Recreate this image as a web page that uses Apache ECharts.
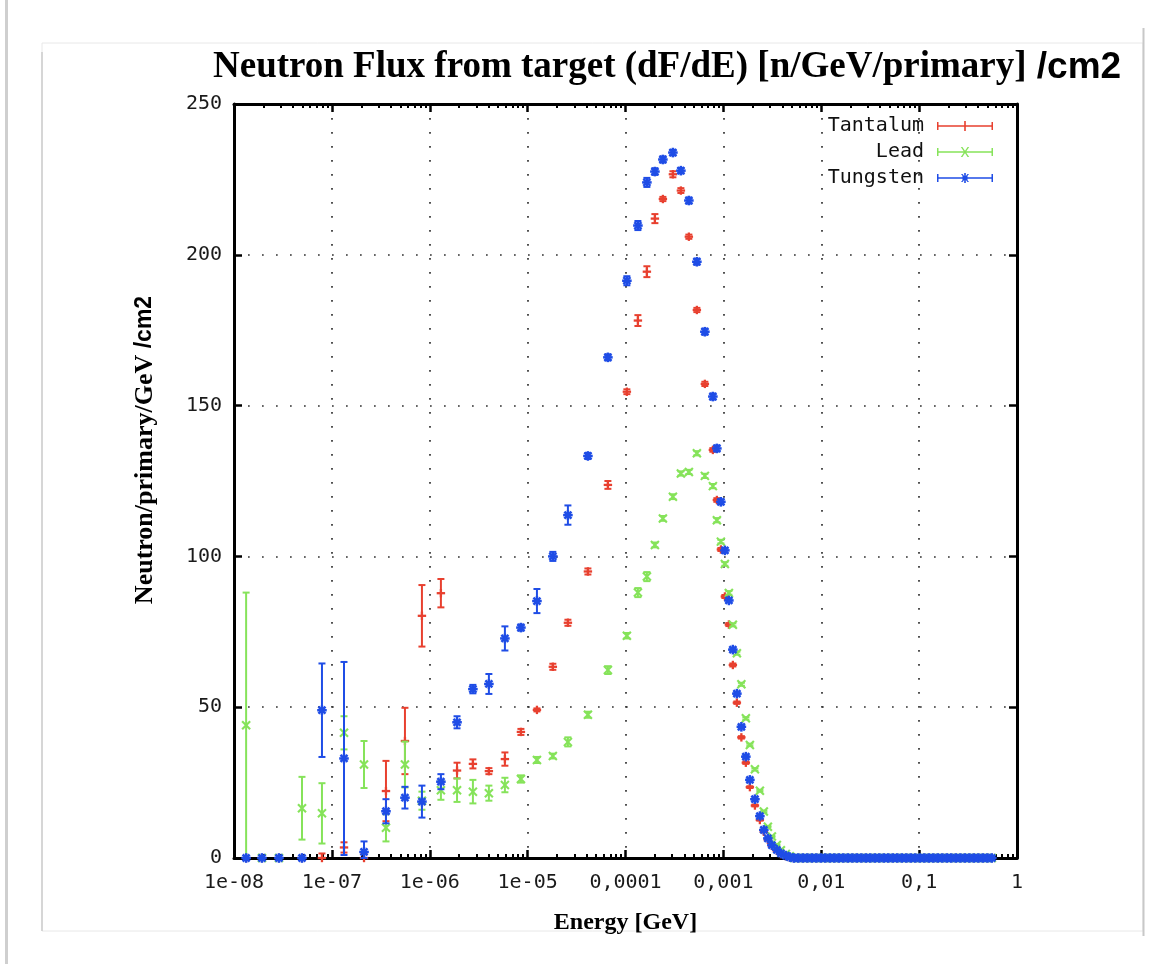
<!DOCTYPE html>
<html><head><meta charset="utf-8">
<script src="https://cdn.jsdelivr.net/npm/echarts@6.0.0/dist/echarts.min.js"></script>
<style>html,body{margin:0;padding:0;background:#fff}#c{width:1168px;height:964px}</style>
</head><body><div id="c"></div>
<script>
// ---- data ----
const energyBins = [1.33e-8, 1.93e-8, 2.88e-8, 4.95e-8, 7.92e-8, 1.33e-7, 2.13e-7, 3.57e-7, 5.58e-7, 8.32e-7,
  1.30e-6, 1.90e-6, 2.76e-6, 4.02e-6, 5.86e-6, 8.54e-6, 1.245e-5, 1.81e-5, 2.58e-5, 4.13e-5,
  6.61e-5, 1.033e-4, 1.339e-4, 1.654e-4, 1.997e-4, 2.41e-4, 3.05e-4, 3.68e-4, 4.44e-4, 5.36e-4,
  6.47e-4, 7.81e-4, 8.58e-4, 9.43e-4, 1.036e-3, 1.138e-3, 1.25e-3, 1.374e-3, 1.527e-3, 1.697e-3,
  1.865e-3, 2.10e-3, 2.36e-3, 2.59e-3, 2.85e-3, 3.13e-3, 3.52e-3, 3.87e-3, 4.35e-3, 4.78e-3];

const tantalumFlux = [0, 0, 0, 0, 0, 3.5, 0, 22.2, 38.8, 80.3,
  87.8, 29, 31.2, 28.8, 32.8, 41.8, 49.1, 63.4, 78, 95,
  123.7, 154.6, 178.2, 194.4, 212, 218.5, 226.7, 221.3, 206, 181.7,
  157.2, 135.3, 118.7, 102.3, 86.7, 77.4, 64, 51.5, 40, 31.6,
  23.5, 17.4, 12.6, 8.7, 6, 4, 2.4, 1.3, 0.6, 0.2];
const tantalumErr = [0, 0, 0, 0, 1.5, 1.7, 1.5, 10, 11, 10.2,
  4.7, 2.6, 1.5, 1, 2.2, 1, 0.5, 1, 1, 1,
  1.3, 0.8, 1.8, 1.8, 1.5, 0.7, 1, 0.8, 0.7, 0.7,
  0.7, 0.6, 0.6, 0.5, 0.5, 0.5, 0.5, 0.4, 0.4, 0.4,
  0.3, 0.3, 0.2, 0.2, 0.2, 0.1, 0.1, 0.1, 0.1, 0.1];

const leadFlux = [44, 0, 0, 16.5, 14.8, 41.5, 31, 10, 31, 19,
  22.5, 22.5, 22, 21.5, 24.2, 26.2, 32.5, 33.8, 38.5, 47.5,
  62.3, 73.7, 88, 93.3, 103.8, 112.6, 119.8, 127.5, 128, 134.2,
  126.7, 123.3, 112, 104.9, 97.5, 87.9, 77.3, 67.9, 57.6, 46.3,
  37.5, 29.4, 22.3, 15.4, 10.4, 7.1, 4.3, 2.6, 1.3, 0.6];
const leadErr = [44, 0, 0, 10.4, 10, 5.5, 7.8, 4.5, 7.6, 3,
  3.2, 3.9, 3.9, 2.5, 2.4, 1.2, 1, 0.8, 1.5, 1,
  1.3, 0.9, 1.5, 1.5, 0.8, 0.8, 0.8, 0.7, 0.7, 0.7,
  0.7, 0.7, 0.7, 0.6, 0.6, 0.6, 0.5, 0.5, 0.5, 0.4,
  0.4, 0.4, 0.3, 0.3, 0.2, 0.2, 0.2, 0.1, 0.1, 0.1];

const tungstenFlux = [0, 0, 0, 0, 49, 33, 2, 15.5, 20, 18.7,
  25.3, 45, 56, 57.7, 72.8, 76.4, 85.2, 100, 113.7, 133.3,
  166, 191.4, 209.7, 224, 227.6, 231.6, 233.9, 227.9, 218, 197.7,
  174.5, 153, 135.8, 118.1, 102, 85.4, 69.1, 54.5, 43.5, 33.6,
  25.9, 19.5, 13.9, 9.3, 6.5, 4.3, 2.7, 1.5, 0.8, 0.3];
const tungstenErr = [0, 0, 0, 0, 15.5, 32, 3.5, 4, 3.6, 5.3,
  2.5, 2, 1.4, 3.3, 4, 1, 4, 1.5, 3.2, 1,
  1, 1.5, 1.5, 1.5, 1.1, 1, 0.9, 0.9, 1, 1,
  1, 1, 1, 0.8, 0.7, 0.6, 0.6, 0.5, 0.5, 0.4,
  0.4, 0.3, 0.3, 0.2, 0.2, 0.2, 0.1, 0.1, 0.1, 0.1];

const tailEnergy = [5.25e-3, 5.83e-3, 6.49e-3, 7.21e-3, 8.02e-3, 8.91e-3, 9.91e-3, 1.10e-2, 1.225e-2, 1.36e-2,
  1.51e-2, 1.68e-2, 1.87e-2, 2.08e-2, 2.31e-2, 2.57e-2, 2.86e-2, 3.17e-2, 3.53e-2, 3.92e-2,
  4.36e-2, 4.84e-2, 5.38e-2, 5.98e-2, 6.65e-2, 7.40e-2, 8.22e-2, 9.14e-2, 0.1016, 0.113,
  0.1256, 0.1396, 0.155, 0.1726, 0.192, 0.213, 0.237, 0.264, 0.293, 0.326,
  0.362, 0.403, 0.448, 0.498, 0.553];
const tailFlux = [0, 0, 0, 0, 0, 0, 0, 0, 0, 0,
  0, 0, 0, 0, 0, 0, 0, 0, 0, 0,
  0, 0, 0, 0, 0, 0, 0, 0, 0, 0,
  0, 0, 0, 0, 0, 0, 0, 0, 0, 0,
  0, 0, 0, 0, 0];

const seriesNames = ['Tantalum', 'Lead', 'Tungsten'];
const xTickLabels = ['1e-08', '1e-07', '1e-06', '1e-05', '0,0001', '0,001', '0,01', '0,1', '1'];
const yTickLabels = ['0', '50', '100', '150', '200', '250'];
const minorMultipliers = [2, 3, 4, 5, 6, 7, 8, 9];

// ---- build ----
const colors = ['#e8402f', '#86e35a', '#1f4de6'];
function build(flux, err) {
  return energyBins.map((e, i) => [e, flux[i], err[i]])
    .concat(tailEnergy.map((e, i) => [e, tailFlux[i], 0]));
}
const minorTicks = [];
for (let k = -8; k < 0; k++) minorMultipliers.forEach(m => minorTicks.push(m * Math.pow(10, k)));

function makeRender(shape, color) {
  return function (params, api) {
    const e = api.value(0), v = api.value(1), er = api.value(2);
    const p = api.coord([e, v]);
    const t = api.coord([e, v + er]);
    const b = api.coord([e, Math.max(0, v - er)]);
    const cap = 3.5;
    const L = (x1, y1, x2, y2, w) => ({type: 'line', shape: {x1, y1, x2, y2}, style: {stroke: color, lineWidth: w || 2}});
    const ch = [
      L(p[0], t[1], p[0], b[1]),
      L(p[0] - cap, t[1], p[0] + cap, t[1]),
      L(p[0] - cap, b[1], p[0] + cap, b[1])
    ];
    const x = p[0], y = p[1];
    if (shape === 'plus') {
      const m = 4.2;
      ch.push(L(x - m, y, x + m, y, 2.3), L(x, y - m, x, y + m, 2.3));
    } else if (shape === 'cross') {
      const m = 4;
      ch.push(L(x - m, y - m, x + m, y + m, 2.1), L(x - m, y + m, x + m, y - m, 2.1));
    } else {
      const m = 4.8, d = 3.5;
      ch.push(L(x - m, y, x + m, y, 2.5), L(x, y - m, x, y + m, 2.5),
        L(x - d, y - d, x + d, y + d, 2.5), L(x - d, y + d, x + d, y - d, 2.5));
    }
    return {type: 'group', children: ch};
  };
}

const bar = 'M0 4.3 H56 V5.7 H0 Z M0 1 H1.5 V9 H0 Z M54.5 1 H56 V9 H54.5 Z ';
const icons = [
  'path://' + bar + 'M27.2 0 H28.8 V10 H27.2 Z',
  'path://' + bar + 'M23.8 0 L25.4 0 L32.2 10 L30.6 10 Z M30.6 0 L32.2 0 L25.4 10 L23.8 10 Z',
  'path://' + bar + 'M27.2 0 H28.8 V10 H27.2 Z M24 1 L25.5 1 L32 9 L30.5 9 Z M30.5 1 L32 1 L25.5 9 L24 9 Z M25.5 3 H30.5 V7 H25.5 Z'
];

const monoFont = 'DejaVu Sans Mono';
const chart = echarts.init(document.getElementById('c'), null, {renderer: 'canvas'});
const dotted = {color: '#333', width: 1.7, type: [1.7, 12.3]};
const logAxisBase = {type: 'log', logBase: 10, min: 1e-8, max: 1, gridIndex: 0};

chart.setOption({
  animation: false,
  backgroundColor: '#fff',
  title: {
    text: '{a|Neutron Flux from target (dF/dE) [n/GeV/primary]}{b| /cm2}',
    left: 208, top: 44,
    textStyle: {rich: {
      a: {fontFamily: 'Liberation Serif', fontWeight: 'bold', fontSize: 37, color: '#000'},
      b: {fontFamily: 'Liberation Sans', fontWeight: 'bold', fontSize: 37, color: '#000'}
    }}
  },
  graphic: [
    {type: 'rect', shape: {x: 5, y: 0, width: 3, height: 964}, style: {fill: '#cfcfcf'}, silent: true},
    {type: 'rect', shape: {x: 42, y: 43, width: 1101, height: 888}, style: {fill: 'none', stroke: '#e8e8e8', lineWidth: 1}, silent: true},
    {type: 'line', shape: {x1: 42, y1: 52, x2: 42, y2: 931}, style: {stroke: '#cdcdcd', lineWidth: 1.5}, silent: true},
    {type: 'line', shape: {x1: 1143.5, y1: 28, x2: 1143.5, y2: 936}, style: {stroke: '#c8c8c8', lineWidth: 2}, silent: true},
    {type: 'text', x: 145, y: 450, rotation: Math.PI / 2, silent: true,
      style: {text: '{a|Neutron/primary/GeV }{b|/cm2}', align: 'center', verticalAlign: 'middle',
        rich: {
          a: {fontFamily: 'Liberation Serif', fontWeight: 'bold', fontSize: 26, fill: '#000'},
          b: {fontFamily: 'Liberation Sans', fontWeight: 'bold', fontSize: 23, fill: '#000'}
        }}}
  ],
  legend: {
    orient: 'vertical', right: 175, top: 116, align: 'right', padding: 0,
    itemWidth: 56, itemHeight: 10, itemGap: 6, selectedMode: false,
    textStyle: {fontFamily: monoFont, fontSize: 20, color: '#111', lineHeight: 20, padding: [0, 8, 0, 0]},
    data: seriesNames.map((n, i) => ({name: n, icon: icons[i], itemStyle: {color: colors[i]}}))
  },
  grid: {left: 234, right: 151, top: 104, bottom: 106, containLabel: false},
  xAxis: [
    Object.assign({}, logAxisBase, {
      position: 'bottom', splitNumber: 8,
      name: 'Energy [GeV]', nameLocation: 'middle', nameGap: 53,
      nameTextStyle: {fontFamily: 'Liberation Serif', fontWeight: 'bold', fontSize: 24, color: '#000'},
      axisLine: {show: true, onZero: false, lineStyle: {color: '#000', width: 3}},
      axisTick: {show: true, inside: true, length: 8, lineStyle: {color: '#000', width: 2.5}},
      axisLabel: {margin: 15, fontFamily: monoFont, fontSize: 20, color: '#1a1a1a',
        formatter: v => xTickLabels[Math.round(Math.log10(v)) + 8]},
      splitLine: {show: true, lineStyle: dotted}
    }),
    Object.assign({}, logAxisBase, {
      position: 'bottom',
      axisLine: {show: false, onZero: false},
      axisTick: {show: true, inside: true, length: 4, customValues: minorTicks, lineStyle: {color: '#000', width: 2}},
      axisLabel: {show: false}, splitLine: {show: false}
    }),
    Object.assign({}, logAxisBase, {
      position: 'top', splitNumber: 8,
      axisLine: {show: true, onZero: false, lineStyle: {color: '#000', width: 3}},
      axisTick: {show: true, inside: true, length: 8, lineStyle: {color: '#000', width: 2.5}},
      axisLabel: {show: false}, splitLine: {show: false}
    }),
    Object.assign({}, logAxisBase, {
      position: 'top',
      axisLine: {show: false, onZero: false},
      axisTick: {show: true, inside: true, length: 4, customValues: minorTicks, lineStyle: {color: '#000', width: 2}},
      axisLabel: {show: false}, splitLine: {show: false}
    })
  ],
  yAxis: [
    {
      type: 'value', min: 0, max: 250, interval: 50, position: 'left',
      axisLine: {show: true, onZero: false, lineStyle: {color: '#000', width: 3}},
      axisTick: {show: true, inside: true, length: 8, lineStyle: {color: '#000', width: 2.5}},
      axisLabel: {margin: 12, fontFamily: monoFont, fontSize: 20, color: '#1a1a1a',
        formatter: v => yTickLabels[Math.round(v / 50)]},
      splitLine: {show: true, lineStyle: dotted}
    },
    {
      type: 'value', min: 0, max: 250, interval: 50, position: 'right',
      axisLine: {show: true, onZero: false, lineStyle: {color: '#000', width: 3}},
      axisTick: {show: true, inside: true, length: 8, lineStyle: {color: '#000', width: 2.5}},
      axisLabel: {show: false}, splitLine: {show: false}
    }
  ],
  series: [
    {name: seriesNames[0], type: 'custom', xAxisIndex: 0, yAxisIndex: 0, silent: true,
      itemStyle: {color: colors[0]}, encode: {x: 0, y: 1}, dimensions: ['E', 'flux', 'err'],
      renderItem: makeRender('plus', colors[0]), data: build(tantalumFlux, tantalumErr)},
    {name: seriesNames[1], type: 'custom', xAxisIndex: 0, yAxisIndex: 0, silent: true,
      itemStyle: {color: colors[1]}, encode: {x: 0, y: 1}, dimensions: ['E', 'flux', 'err'],
      renderItem: makeRender('cross', colors[1]), data: build(leadFlux, leadErr)},
    {name: seriesNames[2], type: 'custom', xAxisIndex: 0, yAxisIndex: 0, silent: true,
      itemStyle: {color: colors[2]}, encode: {x: 0, y: 1}, dimensions: ['E', 'flux', 'err'],
      renderItem: makeRender('star', colors[2]), data: build(tungstenFlux, tungstenErr)}
  ]
});
</script></body></html>
